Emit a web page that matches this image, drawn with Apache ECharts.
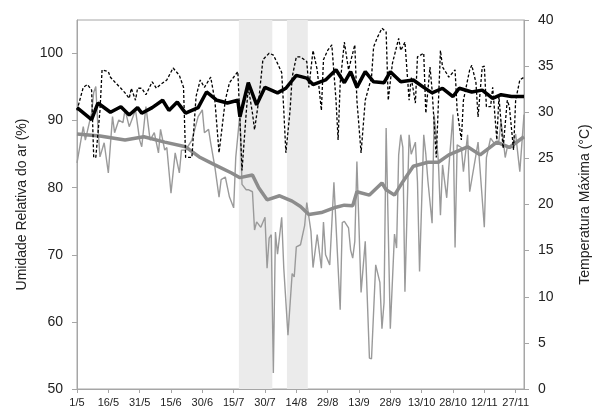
<!DOCTYPE html>
<html>
<head>
<meta charset="utf-8">
<script src="https://cdn.jsdelivr.net/npm/echarts@6/dist/echarts.min.js"></script>
<style>
  html, body { margin: 0; padding: 0; background: #fff; }
  #chart { width: 600px; height: 414px; }
</style>
</head>
<body>
<div id="chart"></div>
<script>
// dias contados a partir de 1/5
var xTickLabels = ['1/5', '16/5', '31/5', '15/6', '30/6', '15/7', '30/7', '14/8', '29/8', '13/9', '28/9', '13/10', '28/10', '12/11', '27/11'];
var xTickDays = [0, 15, 30, 45, 60, 75, 90, 105, 120, 135, 150, 165, 180, 195, 210];
var yLeftTicks = [50, 60, 70, 80, 90, 100];

// periodos sombreados [inicio, fim] em dias
var periodos = [[77.5, 93.5], [100.5, 110.5]];

// umidade relativa diaria (%)
var umidadeDiaria = [
  [0, 83.7], [3, 89.1], [4, 87.1], [7, 91.2], [8, 94.2], [9, 95.1], [10, 89.1], [11, 84.6], [13, 86.7], [15, 82.2],
  [17, 90.6], [18, 88.2], [20, 90.1], [22, 89.7], [23, 91.6], [25, 89.1], [28, 91.6], [30, 87.1], [31, 86.1], [33, 92.1],
  [35, 87.1], [37, 88.2], [39, 85.2], [40, 88.7], [42, 85.6], [43, 86.0], [45, 79.2], [47, 85.2], [49, 82.2], [50, 85.6],
  [52, 85.6], [55, 87.1], [58, 90.6], [60, 91.6], [61, 88.2], [63, 88.7], [64, 86.7], [66, 83.1], [68, 78.6], [69, 81.2],
  [71, 81.6], [72, 80.1], [73, 78.6], [75, 77.0], [76, 84.5], [78, 91.0], [79, 80.5], [81, 79.7], [82, 79.7], [84, 79.4],
  [85, 73.7], [86, 74.9], [88, 74.1], [90, 75.6], [91, 68.0], [92, 72.5], [93, 73.0], [94, 52.4], [95, 73.4], [96, 70.1],
  [98, 75.6], [99, 68.0], [101, 58.0], [103, 67.2], [104, 66.7], [105, 71.2], [107, 71.5], [109, 74.4], [110, 77.8], [112, 73.5],
  [113, 68.1], [115, 73.0], [117, 68.0], [118, 74.9], [119, 70.0], [121, 68.5], [123, 80.8], [126, 61.8], [127, 74.8], [128, 75.0],
  [130, 74.0], [131, 70.7], [132, 69.5], [133, 72.0], [134, 83.9], [136, 64.4], [138, 72.0], [140, 54.6], [141, 54.5], [143, 68.5],
  [145, 65.9], [146, 59.0], [147, 62.9], [148, 88.9], [150, 59.0], [152, 73.1], [153, 71.0], [154, 84.9], [155, 87.9], [156, 86.0],
  [157, 64.5], [159, 87.9], [160, 85.0], [162, 86.8], [163, 80.9], [164, 67.5], [166, 87.9], [167, 85.0], [168, 81.0], [170, 74.7],
  [171, 90.9], [173, 84.0], [174, 75.9], [175, 83.4], [177, 78.5], [178, 83.0], [180, 90.9], [181, 71.1], [182, 86.4], [184, 86.0],
  [185, 82.4], [187, 87.9], [188, 79.4], [191, 84.9], [192, 86.8], [195, 74.1], [196, 84.5], [198, 87.4], [200, 86.5], [202, 87.0],
  [203, 90.0], [205, 84.5], [206, 86.0], [208, 86.0], [210, 88.0], [212, 82.4], [214, 90.9]
];

// umidade relativa - media movel (%)
var umidadeMedia = [
  [0, 88.0], [11, 87.7], [23, 87.1], [32, 87.6], [42, 86.8], [52, 86.1], [59, 84.5], [66, 83.4], [74, 82.2], [78, 81.5],
  [84, 81.9], [87, 80.0], [91, 78.2], [97, 78.8], [103, 78.0], [107, 77.2], [111, 76.0], [117, 76.3], [124, 77.1], [128, 77.4],
  [132, 77.3], [134, 79.4], [140, 78.9], [146, 80.7], [148, 79.7], [152, 78.9], [156, 80.9], [161, 83.2], [168, 83.8], [173, 83.8],
  [178, 84.9], [187, 86.1], [193, 84.9], [201, 86.8], [207, 86.0], [214, 87.6]
];

// temperatura maxima diaria (C)
var tempDiaria = [
  [0, 30.2], [3, 32.7], [5, 33.0], [7, 32.4], [8, 25.1], [9, 25.1], [11, 30.2], [12, 34.6], [15, 34.4], [16, 33.8],
  [18, 33.3], [21, 32.6], [23, 32.1], [25, 31.5], [26, 32.6], [28, 31.3], [29, 32.6], [31, 32.6], [33, 31.9], [36, 33.3],
  [38, 32.6], [40, 33.0], [43, 33.5], [46, 34.8], [49, 34.0], [51, 32.7], [52, 25.1], [55, 25.1], [57, 31.7], [59, 33.5],
  [61, 32.7], [64, 33.8], [66, 31.3], [68, 25.6], [71, 31.3], [73, 33.2], [77, 34.4], [78, 29.2], [79, 23.7], [81, 29.9],
  [82, 32.7], [84, 29.9], [85, 28.1], [87, 31.3], [89, 35.7], [92, 36.4], [94, 36.2], [96, 35.3], [98, 34.3], [99, 30.2],
  [100, 25.6], [102, 30.2], [103, 33.8], [105, 36.0], [107, 36.0], [110, 35.5], [111, 32.7], [113, 36.7], [115, 34.6], [117, 30.2],
  [118, 35.7], [120, 36.7], [122, 37.3], [124, 31.3], [125, 27.0], [126, 33.2], [128, 37.6], [130, 34.6], [132, 36.4], [133, 37.3],
  [134, 31.3], [136, 25.6], [138, 31.3], [141, 33.8], [142, 37.1], [144, 38.2], [146, 39.1], [148, 38.7], [149, 31.3], [151, 35.3],
  [153, 37.1], [154, 38.0], [155, 36.7], [157, 37.6], [159, 31.3], [160, 33.8], [162, 31.0], [163, 36.0], [166, 36.4], [167, 29.9],
  [169, 34.9], [170, 32.4], [172, 25.1], [174, 36.7], [175, 34.9], [177, 34.2], [178, 33.8], [181, 34.6], [182, 30.2], [184, 27.0],
  [185, 31.3], [188, 34.6], [189, 35.1], [191, 33.2], [192, 29.5], [194, 34.9], [195, 35.0], [196, 30.6], [198, 30.6], [199, 32.7],
  [201, 27.0], [202, 31.7], [204, 26.1], [206, 31.3], [207, 30.6], [209, 25.9], [210, 31.3], [212, 33.5], [214, 33.8]
];

// temperatura maxima - media movel (C)
var tempMedia = [
  [0, 30.5], [7, 29.2], [10, 31.0], [16, 30.0], [21, 30.6], [25, 29.7], [29, 30.5], [31, 29.9], [36, 30.5], [41, 31.3],
  [44, 30.2], [48, 31.1], [52, 29.9], [58, 30.5], [62, 32.2], [67, 31.3], [72, 31.0], [77, 31.3], [78, 29.5], [82, 33.2],
  [86, 30.8], [90, 32.7], [96, 32.1], [100, 32.6], [105, 34.0], [110, 33.7], [113, 33.0], [119, 33.5], [124, 34.6], [128, 33.2],
  [131, 34.4], [134, 32.7], [138, 34.4], [142, 33.3], [147, 33.2], [150, 34.4], [155, 33.3], [161, 33.5], [166, 32.7], [170, 32.1],
  [175, 32.6], [180, 31.7], [183, 32.6], [189, 32.2], [194, 32.4], [199, 31.5], [203, 31.9], [208, 31.7], [214, 31.7]
];

var fonte = "'Liberation Sans', Arial, sans-serif";

function getOption() {
  var eixoCor = '#a6a6a6';
  return {
    animation: false,
    grid: {
      left: 77,
      right: 67,
      top: 20,
      bottom: 25,
      show: true,
      borderColor: eixoCor,
      borderWidth: 1
    },
    xAxis: {
      type: 'value',
      min: 0,
      max: 214,
      axisLine: { show: true, lineStyle: { color: eixoCor } },
      axisTick: { show: true, length: 4, lineStyle: { color: eixoCor }, customValues: xTickDays },
      splitLine: { show: false },
      axisLabel: {
        customValues: xTickDays,
        margin: 8,
        color: '#222',
        fontSize: 11,
        fontFamily: fonte,
        formatter: function (v) {
          return xTickLabels[Math.round(v / 15)];
        }
      }
    },
    yAxis: [
      {
        type: 'value',
        min: 50,
        max: 105,
        name: 'Umidade Relativa do ar (%)',
        nameLocation: 'middle',
        nameRotate: 90,
        nameGap: 44,
        nameTextStyle: { color: '#222', fontSize: 14, fontFamily: fonte },
        axisLine: { show: true, lineStyle: { color: eixoCor } },
        axisTick: { show: true, length: 5, lineStyle: { color: eixoCor }, customValues: yLeftTicks },
        splitLine: { show: false },
        axisLabel: { customValues: yLeftTicks, margin: 14, color: '#222', fontSize: 14, fontFamily: fonte }
      },
      {
        type: 'value',
        min: 0,
        max: 40,
        interval: 5,
        position: 'right',
        name: 'Temperatura Máxima (°C)',
        nameLocation: 'middle',
        nameRotate: 90,
        nameGap: 54,
        nameTextStyle: { color: '#222', fontSize: 14, fontFamily: fonte },
        axisLine: { show: true, lineStyle: { color: eixoCor } },
        axisTick: { show: true, length: 5, lineStyle: { color: eixoCor } },
        splitLine: { show: false },
        axisLabel: { margin: 14, color: '#222', fontSize: 14, fontFamily: fonte }
      }
    ],
    series: [
      {
        name: 'Umidade diaria',
        type: 'line',
        yAxisIndex: 0,
        data: umidadeDiaria,
        symbol: 'none',
        lineStyle: { color: '#9a9a9a', width: 1.4 },
        markArea: {
          silent: true,
          itemStyle: { color: '#ebebeb' },
          data: periodos.map(function (p) {
            return [{ xAxis: p[0] }, { xAxis: p[1] }];
          })
        },
        z: 2
      },
      {
        name: 'Umidade media',
        type: 'line',
        yAxisIndex: 0,
        data: umidadeMedia,
        symbol: 'none',
        lineStyle: { color: '#8c8c8c', width: 3.5 },
        z: 3
      },
      {
        name: 'Temperatura diaria',
        type: 'line',
        yAxisIndex: 1,
        data: tempDiaria,
        symbol: 'none',
        lineStyle: { color: '#000', width: 1.3, type: [3, 2] },
        z: 4
      },
      {
        name: 'Temperatura media',
        type: 'line',
        yAxisIndex: 1,
        data: tempMedia,
        symbol: 'none',
        lineStyle: { color: '#000', width: 3.5 },
        z: 5
      }
    ]
  };
}

var chart = echarts.init(document.getElementById('chart'), null, { renderer: 'canvas' });
chart.setOption(getOption());
</script>
</body>
</html>
